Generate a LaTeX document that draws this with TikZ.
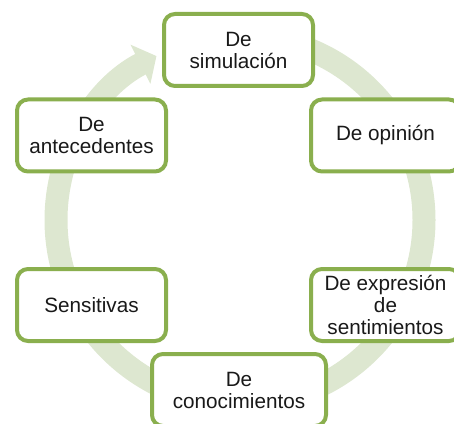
\documentclass[tikz,border=0pt]{standalone}
\usepackage{fontspec}
\setmainfont{Liberation Sans}
\usetikzlibrary{arrows.meta}
\definecolor{boxgreen}{RGB}{138,175,78}
\definecolor{ringgreen}{RGB}{221,231,208}

\begin{document}
\begin{tikzpicture}[
    x=1pt, y=1pt,
    stage/.style={rectangle, rounded corners=11pt, draw=boxgreen, line width=4pt, fill=white,
                  minimum width=149pt, minimum height=72pt, align=center, inner sep=2pt,
                  font=\fontsize{20.7}{22}\selectfont, text=black!90},
    ring/.style={draw=ringgreen, line width=23pt,
                 -{Triangle[length=18pt, width=43pt]}}
  ]
  \useasboundingbox (0,0) rectangle (454,423);

  % --- cycle arrow behind the stages ---
  \coordinate (ctr) at (240,203);
  \draw[ring] ([shift={(90:184)}]ctr) arc[start angle=90, end angle=-243, radius=184];

  % --- stages ---
  \node[stage] (sim) at (238.5,373) {De\\simulación};
  \node[stage] (opi) at (385.5,287.5) {De opinión};
  \node[stage] (exp) at (385.5,118) {De expresión\\de\\sentimientos};
  \node[stage, minimum width=174pt] (con) at (239,33) {De\\conocimientos};
  \node[stage] (sen) at (91.5,118) {Sensitivas};
  \node[stage] (ant) at (91.5,287.5) {De\\antecedentes};
\end{tikzpicture}
\end{document}
